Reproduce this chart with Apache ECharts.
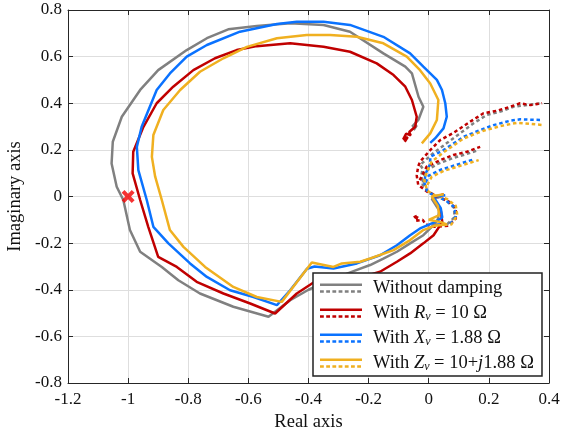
<!DOCTYPE html>
<html><head><meta charset="utf-8">
<script src="https://cdn.jsdelivr.net/npm/echarts@6/dist/echarts.min.js"></script>
<style>html,body{margin:0;padding:0;background:#fff}#c{width:567px;height:429px}</style>
</head><body><div id="c"></div>
<script>
// ---- data ----
const xTickLabels = ['-1.2','-1','-0.8','-0.6','-0.4','-0.2','0','0.2','0.4'];
const yTickLabels = ['-0.8','-0.6','-0.4','-0.2','0','0.2','0.4','0.6','0.8'];
const seriesNames = ['Without damping','With Rv = 10 Ω','With Xv = 1.88 Ω','With Zv = 10+j1.88 Ω'];
const criticalPoint = [[-1, 0]];

const graySolid = [[0.04,0.0],[0.01,-0.01],[0.035,-0.06],[0.03,-0.1],[0.01,-0.13],[-0.018,-0.166],[-0.062,-0.201],[-0.106,-0.237],[-0.151,-0.266],[-0.195,-0.294],[-0.25,-0.32],[-0.33,-0.36],[-0.40,-0.40],[-0.461,-0.445],[-0.533,-0.516],[-0.650,-0.473],[-0.761,-0.416],[-0.833,-0.359],[-0.888,-0.302],[-0.960,-0.237],[-0.994,-0.144],[-1.016,-0.015],[-1.038,0.042],[-1.055,0.142],[-1.051,0.235],[-1.021,0.342],[-0.960,0.457],[-0.900,0.542],[-0.805,0.628],[-0.738,0.679],[-0.667,0.717],[-0.572,0.731],[-0.461,0.743],[-0.350,0.736],[-0.262,0.707],[-0.151,0.614],[-0.078,0.557],[-0.056,0.528],[-0.034,0.428],[-0.018,0.385],[-0.034,0.33],[-0.055,0.30],[-0.04,0.305],[-0.05,0.285]];
const grayDashA = [[0.02,-0.12],[0.06,-0.12],[0.085,-0.09],[0.085,-0.05],[0.06,-0.02],[0.03,0.0],[0.0,0.02],[-0.02,0.05],[-0.025,0.09],[-0.02,0.12],[-0.029,0.135],[0.015,0.186],[0.060,0.229],[0.104,0.271],[0.149,0.314],[0.193,0.350],[0.238,0.364],[0.282,0.385],[0.327,0.392],[0.377,0.400]];
const grayDashB = [[-0.02,0.06],[-0.01,0.11],[0.03,0.14],[0.08,0.165],[0.12,0.18],[0.166,0.199]];

const redSolid = [[0.05,0.01],[0.015,-0.005],[0.04,-0.06],[0.045,-0.11],[0.016,-0.166],[-0.018,-0.201],[-0.062,-0.244],[-0.106,-0.280],[-0.162,-0.323],[-0.22,-0.345],[-0.30,-0.355],[-0.372,-0.359],[-0.439,-0.416],[-0.511,-0.502],[-0.594,-0.459],[-0.683,-0.416],[-0.772,-0.366],[-0.838,-0.302],[-0.900,-0.259],[-0.933,-0.130],[-0.960,-0.015],[-0.985,0.099],[-0.983,0.192],[-0.949,0.299],[-0.905,0.400],[-0.850,0.471],[-0.783,0.542],[-0.711,0.593],[-0.639,0.628],[-0.572,0.645],[-0.461,0.657],[-0.350,0.642],[-0.262,0.621],[-0.173,0.571],[-0.117,0.521],[-0.078,0.471],[-0.056,0.414],[-0.040,0.342],[-0.045,0.299],[-0.065,0.277],[-0.06,0.262],[-0.075,0.27],[-0.085,0.245],[-0.07,0.255],[-0.08,0.235]];
const redDashA = [[-0.05,-0.09],[-0.035,-0.08],[-0.045,-0.105],[-0.02,-0.1],[-0.01,-0.12],[0.02,-0.13],[0.065,-0.125],[0.09,-0.095],[0.09,-0.05],[0.065,-0.02],[0.03,0.0],[-0.005,0.02],[-0.035,0.05],[-0.04,0.09],[-0.035,0.13],[-0.029,0.149],[0.005,0.199],[0.038,0.242],[0.082,0.273],[0.138,0.321],[0.182,0.357],[0.227,0.368],[0.271,0.385],[0.304,0.400],[0.338,0.392],[0.377,0.400]];
const redDashB = [[-0.03,0.07],[-0.007,0.128],[0.038,0.156],[0.082,0.178],[0.127,0.192],[0.171,0.213]];

const blueSolid = [[0.055,0.005],[0.015,0.0],[0.04,-0.05],[0.045,-0.09],[0.02,-0.11],[-0.029,-0.137],[-0.062,-0.166],[-0.106,-0.209],[-0.162,-0.252],[-0.239,-0.287],[-0.317,-0.309],[-0.38,-0.30],[-0.405,-0.31],[-0.461,-0.402],[-0.505,-0.466],[-0.583,-0.431],[-0.661,-0.402],[-0.738,-0.345],[-0.794,-0.287],[-0.866,-0.201],[-0.916,-0.130],[-0.938,-0.015],[-0.966,0.113],[-0.971,0.213],[-0.955,0.299],[-0.905,0.457],[-0.861,0.528],[-0.805,0.600],[-0.738,0.650],[-0.628,0.707],[-0.505,0.740],[-0.439,0.750],[-0.350,0.750],[-0.262,0.736],[-0.151,0.685],[-0.062,0.614],[-0.018,0.557],[0.027,0.500],[0.044,0.457],[0.055,0.400],[0.060,0.342],[0.049,0.292],[0.021,0.249],[0.005,0.230]];
const blueDashA = [[0.03,-0.12],[0.07,-0.12],[0.09,-0.085],[0.085,-0.045],[0.055,-0.015],[0.025,0.0],[-0.005,0.02],[-0.015,0.06],[-0.01,0.10],[0.005,0.14],[0.005,0.170],[0.049,0.199],[0.116,0.256],[0.171,0.285],[0.215,0.306],[0.271,0.325],[0.304,0.331],[0.377,0.328]];
const blueDashB = [[-0.01,0.06],[0.0,0.09],[0.04,0.115],[0.09,0.135],[0.149,0.159]];

const yellowSolid = [[0.05,0.01],[0.01,0.0],[0.03,-0.04],[0.035,-0.08],[0.0,-0.10],[0.04,-0.11],[0.06,-0.12],[0.02,-0.125],[-0.018,-0.144],[-0.062,-0.187],[-0.117,-0.230],[-0.195,-0.266],[-0.228,-0.280],[-0.289,-0.287],[-0.317,-0.302],[-0.389,-0.283],[-0.489,-0.452],[-0.572,-0.431],[-0.650,-0.388],[-0.744,-0.302],[-0.816,-0.216],[-0.861,-0.144],[-0.888,-0.015],[-0.910,0.085],[-0.921,0.170],[-0.916,0.264],[-0.883,0.371],[-0.827,0.457],[-0.761,0.535],[-0.683,0.593],[-0.605,0.642],[-0.505,0.679],[-0.406,0.693],[-0.328,0.693],[-0.239,0.685],[-0.151,0.657],[-0.073,0.600],[-0.029,0.542],[0.005,0.485],[0.032,0.414],[0.027,0.328],[0.005,0.271],[-0.023,0.228]];
const yellowDashA = [[0.03,-0.125],[0.075,-0.12],[0.095,-0.08],[0.09,-0.04],[0.06,-0.01],[0.02,0.005],[-0.005,0.025],[-0.015,0.07],[-0.005,0.11],[0.01,0.15],[0.05,0.19],[0.116,0.249],[0.182,0.282],[0.238,0.302],[0.293,0.316],[0.377,0.307]];
const yellowDashB = [[-0.005,0.05],[0.01,0.085],[0.05,0.11],[0.1,0.13],[0.166,0.156]];

// ---- styles ----
const colors = ['#808080', '#c00000', '#0a72ff', '#f0b020'];
const FONT = 'Liberation Serif';
const solids = [graySolid, redSolid, blueSolid, yellowSolid];
const dashA = [grayDashA, redDashA, blueDashA, yellowDashA];
const dashB = [grayDashB, redDashB, blueDashB, yellowDashB];

let iconPath = 'path://M0 1.5H42V4H0Z';
for (let x = 0; x < 42; x += 6.2) { iconPath += 'M' + x + ' 8.2H' + Math.min(x + 3.8, 42) + 'V10.7H' + x + 'Z'; }
iconPath += 'M0 0H0.01V12H0ZM47.99 0H48V12H47.99Z';

const richNames = {
  'Without damping': 'Without damping',
  'With Rv = 10 Ω': 'With {i|R}{s|v} = 10 Ω',
  'With Xv = 1.88 Ω': 'With {i|X}{s|v} = 1.88 Ω',
  'With Zv = 10+j1.88 Ω': 'With {i|Z}{s|v} = 10+{i|j}1.88 Ω'
};

const series = [];
for (let k = 0; k < 4; k++) {
  [dashA[k], dashB[k]].forEach((d, j) => series.push({
    name: seriesNames[k] + ' dashed ' + j, type: 'line', data: d, showSymbol: false,
    xAxisIndex: 0, yAxisIndex: 0, z: 2,
    lineStyle: { color: colors[k], width: 2.5, type: [3.5, 2.8] }, itemStyle: { color: colors[k] }
  }));
}
for (let k = 0; k < 4; k++) {
  series.push({
    name: seriesNames[k], type: 'line', data: solids[k], showSymbol: false,
    xAxisIndex: 0, yAxisIndex: 0, z: 3,
    lineStyle: { color: colors[k], width: 2.5 }, itemStyle: { color: colors[k] }
  });
}
series.push({
  name: 'critical', type: 'scatter', data: criticalPoint, z: 5,
  symbol: 'path://M0 2.2L2.2 0L5 2.8L7.8 0L10 2.2L7.2 5L10 7.8L7.8 10L5 7.2L2.2 10L0 7.8L2.8 5Z',
  symbolSize: 13, itemStyle: { color: '#f20000' }
});

const fmt = v => String(Number(v.toFixed(1)));
const axisCommon = {
  type: 'value', interval: 0.2,
  axisLine: { show: true, onZero: false, lineStyle: { color: '#262626', width: 1 } },
  axisTick: { show: true, inside: true, length: 5, lineStyle: { color: '#262626' } },
  splitLine: { show: false }
};

const option = {
  animation: false,
  backgroundColor: '#fff',
  grid: { left: 68, right: 18, top: 10, bottom: 46, containLabel: false, outerBoundsMode: 'none' },
  xAxis: [
    Object.assign({}, axisCommon, {
      min: -1.2, max: 0.4, position: 'bottom',
      name: 'Real axis', nameLocation: 'middle', nameGap: 26,
      nameTextStyle: { fontFamily: FONT, fontSize: 18.5, color: '#111' },
      axisLabel: { fontFamily: FONT, fontSize: 17, color: '#111', margin: 8, formatter: v => xTickLabels[Math.round((v + 1.2) / 0.2)] ?? fmt(v) },
      splitLine: { show: true, lineStyle: { color: '#dedede', width: 1 } }
    }),
    Object.assign({}, axisCommon, { min: -1.2, max: 0.4, position: 'top', axisLabel: { show: false } })
  ],
  yAxis: [
    Object.assign({}, axisCommon, {
      min: -0.8, max: 0.8, position: 'left',
      name: 'Imaginary axis', nameLocation: 'middle', nameGap: 37, nameRotate: 90,
      nameTextStyle: { fontFamily: FONT, fontSize: 18.5, color: '#111' },
      axisLabel: { fontFamily: FONT, fontSize: 17, color: '#111', margin: 6, formatter: v => yTickLabels[Math.round((v + 0.8) / 0.2)] ?? fmt(v) },
      splitLine: { show: true, lineStyle: { color: '#dedede', width: 1 } }
    }),
    Object.assign({}, axisCommon, { min: -0.8, max: 0.8, position: 'right', axisLabel: { show: false } })
  ],
  legend: {
    data: seriesNames, orient: 'vertical', left: 313, top: 273,
    backgroundColor: '#fff', borderColor: '#222', borderWidth: 1.5, borderRadius: 0,
    padding: [5, 8, 3, 7], itemGap: 5, itemWidth: 48, itemHeight: 12, icon: iconPath,
    selectedMode: false,
    formatter: n => richNames[n],
    textStyle: {
      fontFamily: FONT, fontSize: 18.5, color: '#111', lineHeight: 20,
      rich: {
        i: { fontFamily: FONT, fontSize: 18.5, fontStyle: 'italic', color: '#111', lineHeight: 20 },
        s: { fontFamily: FONT, fontSize: 12, fontStyle: 'italic', color: '#111', lineHeight: 12, verticalAlign: 'bottom' }
      }
    }
  },
  series: series
};

const chart = echarts.init(document.getElementById('c'), null, { renderer: 'canvas' });
chart.setOption(option);
</script>
</body></html>
